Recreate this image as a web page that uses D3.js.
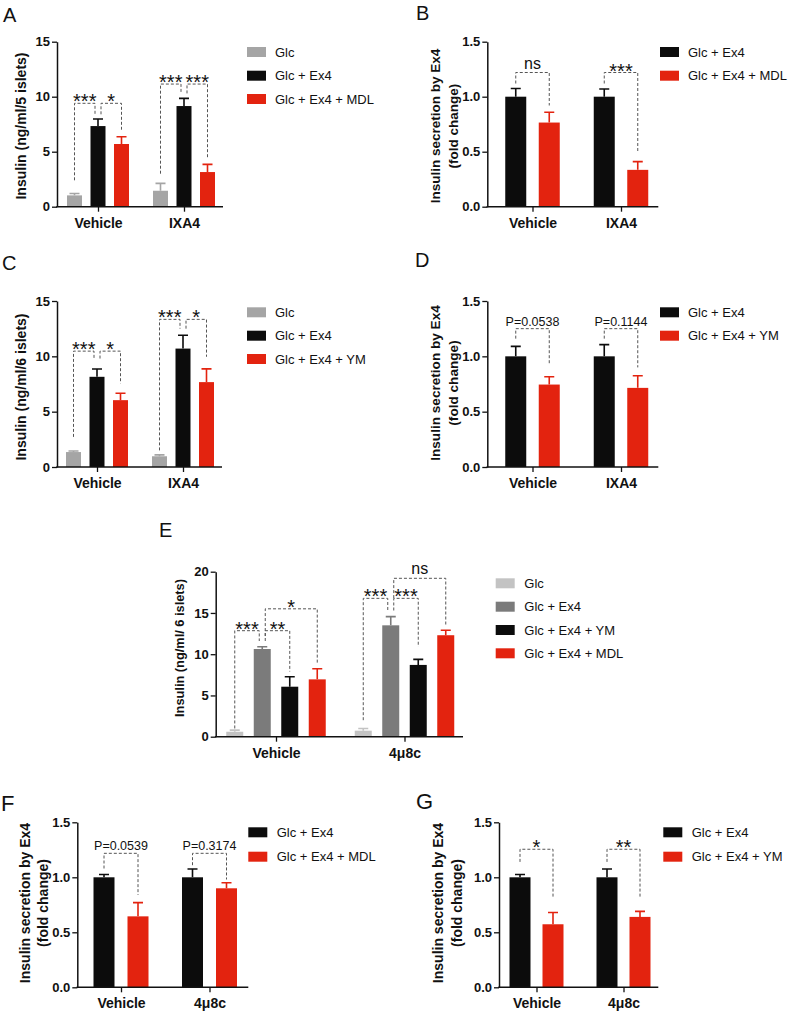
<!DOCTYPE html>
<html>
<head>
<meta charset="utf-8">
<script src="https://cdn.jsdelivr.net/npm/d3@7"></script>
<style>
  html, body { margin: 0; padding: 0; background: #fff; }
  svg { display: block; }
  text { font-family: "Liberation Sans", Arial, Helvetica, sans-serif; fill: #111; }
</style>
</head>
<body>
<svg id="chart" width="790" height="1014"></svg>
<script>
// ---------------- DATA ----------------
const groupsIXA = ["Vehicle", "IXA4"];
const groups4u8c = ["Vehicle", "4μ8c"];

const seriesA = ["Glc", "Glc + Ex4", "Glc + Ex4 + MDL"];
const meanA = [[1.03, 7.33, 5.70], [1.45, 9.15, 3.15]];
const semA  = [[0.17, 0.64, 0.66], [0.67, 0.70, 0.70]];
const ticksA = [0, 5, 10, 15];
const sigA = [
  { group: "Vehicle", from: "Glc", to: "Glc + Ex4", level: 9.4, fromEnd: 2.4, toEnd: 8.4, label: "***" },
  { group: "Vehicle", from: "Glc + Ex4", to: "Glc + Ex4 + MDL", level: 9.4, fromEnd: 8.4, toEnd: 7.0, label: "*" },
  { group: "IXA4", from: "Glc", to: "Glc + Ex4", level: 11.15, fromEnd: 3.0, toEnd: 10.3, label: "***" },
  { group: "IXA4", from: "Glc + Ex4", to: "Glc + Ex4 + MDL", level: 11.15, fromEnd: 10.3, toEnd: 4.4, label: "***" }
];

const seriesB = ["Glc + Ex4", "Glc + Ex4 + MDL"];
const meanB = [[1.0, 0.765], [1.0, 0.335]];
const semB  = [[0.075, 0.093], [0.07, 0.075]];
const ticksB = [0, 0.5, 1.0, 1.5];
const sigB = [
  { group: "Vehicle", from: "Glc + Ex4", to: "Glc + Ex4 + MDL", level: 1.22, fromEnd: 1.12, toEnd: 0.92, label: "ns" },
  { group: "IXA4", from: "Glc + Ex4", to: "Glc + Ex4 + MDL", level: 1.22, fromEnd: 1.12, toEnd: 0.5, label: "***" }
];

const seriesC = ["Glc", "Glc + Ex4", "Glc + Ex4 + YM"];
const meanC = [[1.35, 8.15, 6.04], [0.97, 10.7, 7.67]];
const semC  = [[0.10, 0.70, 0.63], [0.13, 1.20, 1.20]];
const ticksC = [0, 5, 10, 15];
const sigC = [
  { group: "Vehicle", from: "Glc", to: "Glc + Ex4", level: 10.47, fromEnd: 2.72, toEnd: 9.8, label: "***" },
  { group: "Vehicle", from: "Glc + Ex4", to: "Glc + Ex4 + YM", level: 10.47, fromEnd: 9.8, toEnd: 7.55, label: "*" },
  { group: "IXA4", from: "Glc", to: "Glc + Ex4", level: 13.34, fromEnd: 1.5, toEnd: 12.5, label: "***" },
  { group: "IXA4", from: "Glc + Ex4", to: "Glc + Ex4 + YM", level: 13.34, fromEnd: 12.5, toEnd: 9.96, label: "*" }
];

const seriesD = ["Glc + Ex4", "Glc + Ex4 + YM"];
const meanD = [[1.0, 0.745], [1.0, 0.715]];
const semD  = [[0.09, 0.07], [0.106, 0.11]];
const ticksD = [0, 0.5, 1.0, 1.5];
const sigD = [
  { group: "Vehicle", from: "Glc + Ex4", to: "Glc + Ex4 + YM", level: 1.25, fromEnd: 1.16, toEnd: 0.92, label: "P=0.0538" },
  { group: "IXA4", from: "Glc + Ex4", to: "Glc + Ex4 + YM", level: 1.25, fromEnd: 1.16, toEnd: 0.9, label: "P=0.1144" }
];

const seriesE = ["Glc", "Glc + Ex4", "Glc + Ex4 + YM", "Glc + Ex4 + MDL"];
const meanE = [[0.60, 10.63, 6.06, 6.95], [0.73, 13.5, 8.7, 12.3]];
const semE  = [[0.20, 0.27, 1.20, 1.29], [0.27, 1.05, 0.67, 0.60]];
const ticksE = [0, 5, 10, 15, 20];
const sigE = [
  { group: "Vehicle", from: "Glc", to: "Glc + Ex4", level: 12.85, fromEnd: 1.0, toEnd: 11.6, label: "***" },
  { group: "Vehicle", from: "Glc + Ex4", to: "Glc + Ex4 + YM", level: 12.85, fromEnd: 11.6, toEnd: 7.9, label: "**" },
  { group: "Vehicle", from: "Glc + Ex4", to: "Glc + Ex4 + MDL", level: 15.5, fromEnd: 12.2, toEnd: 8.9, label: "*" },
  { group: "4μ8c", from: "Glc", to: "Glc + Ex4", level: 16.77, fromEnd: 2.0, toEnd: 15.3, label: "***" },
  { group: "4μ8c", from: "Glc + Ex4", to: "Glc + Ex4 + YM", level: 16.77, fromEnd: 15.3, toEnd: 10.9, label: "***" },
  { group: "4μ8c", from: "Glc + Ex4", to: "Glc + Ex4 + MDL", level: 19.2, fromEnd: 16.8, toEnd: 13.5, label: "ns" }
];

const seriesF = ["Glc + Ex4", "Glc + Ex4 + MDL"];
const meanF = [[1.0, 0.645], [1.0, 0.90]];
const semF  = [[0.025, 0.125], [0.076, 0.05]];
const ticksF = [0, 0.5, 1.0, 1.5];
const sigF = [
  { group: "Vehicle", from: "Glc + Ex4", to: "Glc + Ex4 + MDL", level: 1.218, fromEnd: 1.08, toEnd: 0.84, label: "P=0.0539" },
  { group: "4μ8c", from: "Glc + Ex4", to: "Glc + Ex4 + MDL", level: 1.218, fromEnd: 1.11, toEnd: 0.98, label: "P=0.3174" }
];

const seriesG = ["Glc + Ex4", "Glc + Ex4 + YM"];
const meanG = [[1.0, 0.573], [1.0, 0.64]];
const semG  = [[0.025, 0.107], [0.075, 0.05]];
const ticksG = [0, 0.5, 1.0, 1.5];
const sigG = [
  { group: "Vehicle", from: "Glc + Ex4", to: "Glc + Ex4 + YM", level: 1.255, fromEnd: 1.14, toEnd: 0.81, label: "*" },
  { group: "4μ8c", from: "Glc + Ex4", to: "Glc + Ex4 + YM", level: 1.255, fromEnd: 1.14, toEnd: 0.81, label: "**" }
];

// ---------------- STYLE ----------------
const RED = "#e3230f", BLACK = "#0c0c0c", GRAY = "#a5a5a5", LIGHT = "#c3c3c3", MID = "#7b7b7b";
const colorMap = {
  A: [GRAY, BLACK, RED], B: [BLACK, RED], C: [GRAY, BLACK, RED], D: [BLACK, RED],
  E: [LIGHT, MID, BLACK, RED], F: [BLACK, RED], G: [BLACK, RED]
};

const fmtInt = d3.format("d"), fmt1 = d3.format(".1f");

const panels = [
  { id: "A", groups: groupsIXA, series: seriesA, mean: meanA, sem: semA, ticks: ticksA, sig: sigA, fmt: fmtInt,
    x0: 57, xEnd: 223, y0: 206.7, yTop: 41.7, centers: [98, 184], step: 23.5, barW: 15,
    title: ["Insulin (ng/ml/5 islets)"], titleX: [21], titleY: 126, titleSize: 14,
    label: [3, 22], labelSize: 20, legX: 247, legText: 275, legRows: [52, 75.7, 99] },
  { id: "B", groups: groupsIXA, series: seriesB, mean: meanB, sem: semB, ticks: ticksB, sig: sigB, fmt: fmt1,
    x0: 487.3, xEnd: 658.3, y0: 206.7, yTop: 41.7, centers: [532.5, 621], step: 33.5, barW: 21,
    title: ["Insulin secretion by Ex4", "(fold change)"], titleX: [435, 453], titleY: 126, titleSize: 13.5,
    label: [416, 20], labelSize: 20, legX: 660, legText: 688, legRows: [52, 75.7] },
  { id: "C", groups: groupsIXA, series: seriesC, mean: meanC, sem: semC, ticks: ticksC, sig: sigC, fmt: fmtInt,
    x0: 57, xEnd: 222, y0: 467, yTop: 301, centers: [97, 183], step: 23.5, barW: 15,
    title: ["Insulin (ng/ml/6 islets)"], titleX: [21], titleY: 387, titleSize: 14,
    label: [2, 270], labelSize: 20, legX: 247, legText: 275, legRows: [312.3, 335.7, 359] },
  { id: "D", groups: groupsIXA, series: seriesD, mean: meanD, sem: semD, ticks: ticksD, sig: sigD, fmt: fmt1,
    x0: 487.3, xEnd: 658.3, y0: 467, yTop: 301, centers: [532.5, 621], step: 33.5, barW: 21,
    title: ["Insulin secretion by Ex4", "(fold change)"], titleX: [435, 453], titleY: 383, titleSize: 13.6,
    label: [415, 267], labelSize: 20, legX: 660, legText: 688, legRows: [312.3, 335.7] },
  { id: "E", groups: groups4u8c, series: seriesE, mean: meanE, sem: semE, ticks: ticksE, sig: sigE, fmt: fmtInt,
    x0: 215.7, xEnd: 463, y0: 736.7, yTop: 571.7, centers: [276, 404.5], step: 27.5, barW: 17,
    title: ["Insulin (ng/ml/ 6 islets)"], titleX: [179], titleY: 648, titleSize: 12.8,
    label: [159, 537], labelSize: 20, legX: 495.7, legText: 524.3, legRows: [583.3, 606.7, 630, 653.3] },
  { id: "F", groups: groups4u8c, series: seriesF, mean: meanF, sem: semF, ticks: ticksF, sig: sigF, fmt: fmt1,
    x0: 77.3, xEnd: 248.3, y0: 987.3, yTop: 822.3, centers: [121, 209.5], step: 34, barW: 21,
    title: ["Insulin secretion by Ex4", "(fold change)"], titleX: [25, 43], titleY: 903, titleSize: 14,
    label: [1, 811], labelSize: 22, legX: 248.3, legText: 276.7, legRows: [832.3, 856.7] },
  { id: "G", groups: groups4u8c, series: seriesG, mean: meanG, sem: semG, ticks: ticksG, sig: sigG, fmt: fmt1,
    x0: 499, xEnd: 658.3, y0: 987.3, yTop: 822.3, centers: [536.5, 623.5], step: 33, barW: 21,
    title: ["Insulin secretion by Ex4", "(fold change)"], titleX: [438, 457], titleY: 903, titleSize: 14,
    label: [416, 809], labelSize: 22, legX: 663.3, legText: 691.7, legRows: [832.3, 856.7] }
];

const svg = d3.select("#chart");

function drawPanel(p) {
  const g = svg.append("g").attr("class", "panel-" + p.id);
  const colors = colorMap[p.id];
  const ymax = p.ticks[p.ticks.length - 1];
  const y = d3.scaleLinear().domain([0, ymax]).range([p.y0, p.yTop]);
  const gx = d3.scalePoint().domain(p.groups).range(p.centers);
  const n = p.series.length;
  const pin = 1 - p.barW / p.step;
  const sx = d3.scaleBand().domain(p.series)
    .range([-p.step * n / 2, p.step * n / 2])
    .paddingInner(pin).paddingOuter(pin / 2);
  const bw = sx.bandwidth();
  const cx = (grp, s) => gx(grp) + sx(s) + bw / 2;

  // bars + error bars
  const recs = [];
  p.groups.forEach((grp, i) => p.series.forEach((s, j) => {
    recs.push({ grp, s, j, m: p.mean[i][j], e: p.sem[i][j] });
  }));
  g.selectAll("rect.bar").data(recs).join("rect").attr("class", "bar")
    .attr("x", d => gx(d.grp) + sx(d.s)).attr("width", bw)
    .attr("y", d => y(d.m)).attr("height", d => y(0) - y(d.m))
    .attr("fill", d => colors[d.j]);
  g.selectAll("path.err").data(recs).join("path").attr("class", "err")
    .attr("d", d => {
      const c = cx(d.grp, d.s), cap = 5;
      return `M${c},${y(d.m)}V${y(d.m + d.e)}M${c - cap},${y(d.m + d.e)}H${c + cap}`;
    })
    .attr("stroke", d => colors[d.j]).attr("stroke-width", 1.6).attr("fill", "none");

  // significance brackets
  const endCount = {};
  p.sig.forEach(b => {
    [b.from, b.to].forEach(s => { const k = b.group + "|" + s; endCount[k] = (endCount[k] || 0) + 1; });
  });
  const off = (grp, s, side) => (endCount[grp + "|" + s] > 1 ? side * 3 : 0);
  p.sig.forEach(b => {
    const xa = cx(b.group, b.from) + off(b.group, b.from, 1);
    const xb = cx(b.group, b.to) + off(b.group, b.to, -1);
    g.append("path")
      .attr("d", `M${xa},${y(b.fromEnd)}V${y(b.level)}H${xb}V${y(b.toEnd)}`)
      .attr("fill", "none").attr("stroke", "#555").attr("stroke-width", 1)
      .attr("stroke-dasharray", "3,2");
    const isStar = b.label.indexOf("*") >= 0;
    const isP = b.label.indexOf("P=") === 0;
    g.append("text")
      .attr("x", (xa + xb) / 2)
      .attr("y", y(b.level) + (isStar ? 5 : (isP ? -3 : -4)))
      .attr("text-anchor", "middle")
      .attr("font-size", isStar ? 20 : (isP ? 12.5 : 16))
      .text(b.label);
  });

  // y axis
  const ya = g.append("g").attr("transform", `translate(${p.x0},0)`)
    .call(d3.axisLeft(y).tickValues(p.ticks).tickFormat(p.fmt).tickSize(5).tickSizeOuter(0).tickPadding(2));
  ya.select(".domain").attr("stroke", "#111").attr("stroke-width", 1.5);
  ya.selectAll(".tick line").attr("stroke", "#111").attr("stroke-width", 1.3);
  ya.selectAll(".tick text").attr("font-size", 13).attr("font-weight", "bold")
    .attr("font-family", "Liberation Sans, Arial, sans-serif").attr("fill", "#111");

  // x axis
  const xa = g.append("g").attr("transform", `translate(0,${p.y0})`)
    .call(d3.axisBottom(gx).tickSize(5).tickSizeOuter(0).tickPadding(6));
  xa.select(".domain").remove();
  xa.append("line").attr("x1", p.x0 - 0.75).attr("x2", p.xEnd).attr("y1", 0).attr("y2", 0)
    .attr("stroke", "#111").attr("stroke-width", 1.5);
  xa.selectAll(".tick line").attr("stroke", "#111").attr("stroke-width", 1.3);
  xa.selectAll(".tick text").attr("font-size", 14).attr("font-weight", "bold")
    .attr("font-family", "Liberation Sans, Arial, sans-serif").attr("fill", "#111");

  // y title
  p.title.forEach((t, k) => {
    g.append("text")
      .attr("transform", `translate(${p.titleX[k]},${p.titleY}) rotate(-90)`)
      .attr("text-anchor", "middle").attr("dominant-baseline", "central")
      .attr("font-size", p.titleSize).attr("font-weight", "bold").text(t);
  });

  // panel label
  g.append("text").attr("x", p.label[0]).attr("y", p.label[1])
    .attr("font-size", p.labelSize).text(p.id);

  // legend
  const leg = g.selectAll("g.leg").data(p.series).join("g").attr("class", "leg");
  leg.append("rect").attr("x", p.legX).attr("y", (d, i) => p.legRows[i] - 5)
    .attr("width", 19).attr("height", 10).attr("fill", (d, i) => colors[i]);
  leg.append("text").attr("x", p.legText).attr("y", (d, i) => p.legRows[i])
    .attr("dominant-baseline", "central").attr("font-size", 13).text(d => d);
}

panels.forEach(drawPanel);
</script>
</body>
</html>
